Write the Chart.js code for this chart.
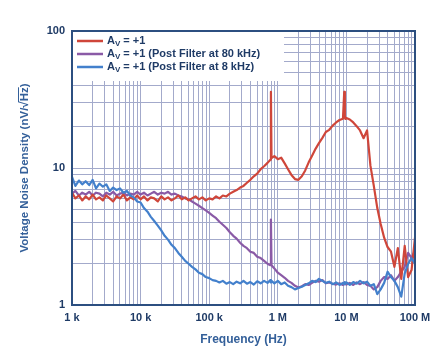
<!DOCTYPE html>
<html>
<head>
<meta charset="utf-8">
<script src="https://cdn.jsdelivr.net/npm/chart.js@4.4.1/dist/chart.umd.min.js"></script>
<style>
  html, body { margin: 0; padding: 0; background: #fff; }
  canvas { display: block; }
</style>
</head>
<body>
<canvas id="noiseChart" width="440" height="347"></canvas>
<script>
// Frequency points (Hz), log spaced, with a few extra points around the spurs
const freqHz = [
  1e3, 1.12e3, 1.26e3, 1.41e3, 1.58e3, 1.78e3, 2e3, 2.24e3, 2.51e3, 2.82e3, 3.16e3, 3.55e3, 3.98e3, 4.47e3, 5.01e3, 5.62e3, 6.31e3, 7.08e3, 7.94e3, 8.91e3,
  1e4, 1.12e4, 1.26e4, 1.41e4, 1.58e4, 1.78e4, 2e4, 2.24e4, 2.51e4, 2.82e4, 3.16e4, 3.55e4, 3.98e4, 4.47e4, 5.01e4, 5.62e4, 6.31e4, 7.08e4, 7.94e4, 8.91e4,
  1e5, 1.12e5, 1.26e5, 1.41e5, 1.58e5, 1.78e5, 2e5, 2.24e5, 2.51e5, 2.82e5, 3.16e5, 3.55e5, 3.98e5, 4.47e5, 5.01e5, 5.62e5, 6.31e5, 7.08e5, 7.8e5, 7.94e5, 8.1e5, 8.91e5,
  1e6, 1.12e6, 1.26e6, 1.41e6, 1.58e6, 1.78e6, 2e6, 2.24e6, 2.51e6, 2.82e6, 3.16e6, 3.55e6, 3.98e6, 4.47e6, 5.01e6, 5.62e6, 6.31e6, 7.08e6, 7.94e6, 8.91e6, 9.3e6, 9.5e6, 9.7e6,
  1e7, 1.12e7, 1.26e7, 1.41e7, 1.58e7, 1.78e7, 2e7, 2.24e7, 2.51e7, 2.82e7, 3.16e7, 3.55e7, 3.98e7, 4.47e7, 5.01e7, 5.62e7, 6.31e7, 7.08e7, 7.94e7, 8.91e7,
  1e8
];

// Noise density, nV/rtHz
const gainOne = [
  6.6, 6.0, 6.3, 5.8, 6.2, 5.9, 6.4, 5.9, 6.1, 5.8, 6.3, 6.0, 5.7, 6.2, 6.0, 6.4, 5.8, 6.1, 5.9, 6.3,
  5.9, 6.2, 5.8, 6.1, 6.0, 5.7, 6.2, 5.9, 6.1, 5.8, 6.0, 6.3, 5.9, 6.1, 5.8, 6.0, 6.2, 5.9, 6.1, 5.8,
  6.0, 5.9, 6.2, 6.0, 6.3, 6.2, 6.5, 6.7, 6.9, 7.2, 7.4, 7.8, 8.2, 8.7, 9.1, 9.8, 10.3, 10.9, 11.5, 36, 11.8, 12.2,
  11.6, 11.9, 10.8, 9.8, 8.9, 8.3, 8.2, 8.7, 9.6, 11.0, 12.3, 13.8, 15.2, 16.6, 18.3, 19.0, 20.4, 21.5, 22.4, 22.9, 36, 23.3, 22.8,
  23.2, 22.6, 21.5, 20.2, 18.8, 16.5, 18.8, 10.4, 7.4, 5.1, 3.9, 3.1, 2.65, 2.45, 1.9, 2.6, 1.55, 2.7, 1.6, 1.8,
  3.1
];

const postFilter80k = [
  6.5, 6.8, 6.3, 6.6, 6.4, 6.7, 6.3, 6.6, 6.5, 6.2, 6.6, 6.4, 6.7, 6.3, 6.5, 6.6, 6.3, 6.5, 6.4, 6.7,
  6.4, 6.6, 6.3, 6.5, 6.7, 6.4, 6.6, 6.5, 6.7, 6.4, 6.5, 6.3, 6.2, 6.0, 5.9, 5.7, 5.5, 5.3, 5.1, 4.9,
  4.7, 4.5, 4.3, 4.05, 3.85, 3.65, 3.4, 3.2, 3.05, 2.85, 2.7, 2.6, 2.45, 2.4, 2.25, 2.2, 2.1, 2.0, 1.95, 4.2, 1.95, 1.85,
  1.72, 1.65, 1.58, 1.5, 1.45, 1.38, 1.34, 1.37, 1.42, 1.4, 1.45, 1.5, 1.48, 1.52, 1.44, 1.46, 1.43, 1.41, 1.44, 1.4, 1.45, 1.42, 1.44,
  1.41, 1.45, 1.4, 1.46, 1.42, 1.47, 1.4, 1.38, 1.3, 1.35, 1.5, 1.6, 1.55, 1.65, 1.5, 1.6, 1.75, 1.9, 2.4, 2.2,
  2.5
];

const postFilter8k = [
  8.6, 7.4, 8.1, 7.6, 8.0, 7.5, 8.2, 7.1, 7.7, 7.3, 7.6, 6.8, 7.2, 6.9, 7.1, 6.6, 6.8, 6.3, 6.1, 5.7,
  5.6, 5.1, 4.8, 4.4, 4.1, 3.8, 3.5, 3.2, 3.0, 2.75, 2.6, 2.4, 2.25, 2.1, 2.0, 1.9, 1.82, 1.72, 1.68, 1.6,
  1.57, 1.52, 1.5, 1.46, 1.5, 1.43, 1.47, 1.42, 1.48, 1.44, 1.5, 1.43, 1.47, 1.41, 1.49, 1.44, 1.5, 1.45, 1.52, 1.46, 1.5, 1.44,
  1.5, 1.42, 1.46, 1.38, 1.35, 1.3, 1.33, 1.36, 1.4, 1.44, 1.5, 1.47, 1.55, 1.5, 1.45, 1.48, 1.42, 1.46, 1.4, 1.45, 1.42, 1.47, 1.43,
  1.46, 1.4, 1.47, 1.43, 1.5, 1.44, 1.48, 1.38, 1.42, 1.2, 1.3, 1.45, 1.75, 1.6, 1.5, 1.35, 1.15, 1.7, 2.0, 2.2,
  2.0
];

const seriesNames = ['= +1', '= +1 (Post Filter at 80 kHz)', '= +1 (Post Filter at 8 kHz)'];
const seriesColors = ['#cf463a', '#8a5aa6', '#4380cc'];

const xDecades = [1e3, 1e4, 1e5, 1e6, 1e7, 1e8];
const xTickLabels = ['1 k', '10 k', '100 k', '1 M', '10 M', '100 M'];
const yDecades = [1, 10, 100];
const yTickLabels = ['1', '10', '100'];

const tickColor = '#1f3b66';
const titleColor = '#34609a';
const gridColor = '#a3aacb';
const frameColor = '#2c4f80';

function logTicks(decades) {
  const out = [];
  decades.forEach((d, i) => {
    out.push({ value: d });
    if (i < decades.length - 1) {
      for (let m = 2; m <= 9; m++) out.push({ value: d * m });
    }
  });
  return out;
}

function toPoints(values) {
  return freqHz.map((f, i) => ({ x: f, y: values[i] }));
}

// white legend box with subscripted A_V labels, plus the frame around the plot
const legendAndFrame = {
  id: 'legendAndFrame',
  beforeDatasetsDraw(chart) {
    const ctx = chart.ctx;
    const a = chart.chartArea;
    ctx.save();
    ctx.fillStyle = '#fff';
    ctx.fillRect(a.left + 1, a.top + 1, 211, 49);
    ctx.restore();
  },
  afterDatasetsDraw(chart) {
    const ctx = chart.ctx;
    const a = chart.chartArea;
    ctx.save();
    ctx.strokeStyle = frameColor;
    ctx.lineWidth = 2;
    ctx.strokeRect(a.left, a.top, a.right - a.left, a.bottom - a.top);

    const rowY = [a.top + 10, a.top + 23, a.top + 36];
    seriesNames.forEach((name, i) => {
      const y = rowY[i];
      ctx.strokeStyle = seriesColors[i];
      ctx.lineWidth = 2.5;
      ctx.beginPath();
      ctx.moveTo(a.left + 5, y);
      ctx.lineTo(a.left + 31, y);
      ctx.stroke();

      ctx.fillStyle = tickColor;
      ctx.textBaseline = 'middle';
      ctx.textAlign = 'left';
      let x = a.left + 35;
      ctx.font = 'bold 11px "Liberation Sans", Arial, sans-serif';
      ctx.fillText('A', x, y);
      x += ctx.measureText('A').width;
      ctx.font = 'bold 8px "Liberation Sans", Arial, sans-serif';
      ctx.fillText('V', x, y + 3);
      x += ctx.measureText('V').width + 3;
      ctx.font = 'bold 11px "Liberation Sans", Arial, sans-serif';
      ctx.fillText(name, x, y);
    });
    ctx.restore();
  },
  afterDraw(chart) {
    // y title with an overline on the square root
    const ctx = chart.ctx;
    const a = chart.chartArea;
    const pre = 'Voltage Noise Density (nV/\u221A';
    const hz = 'Hz';
    const post = ')';
    ctx.save();
    ctx.font = 'bold 11.5px "Liberation Sans", Arial, sans-serif';
    ctx.fillStyle = titleColor;
    ctx.strokeStyle = titleColor;
    ctx.translate(25, (a.top + a.bottom) / 2);
    ctx.rotate(-Math.PI / 2);
    const w = ctx.measureText(pre + hz + post).width;
    const x0 = -w / 2;
    ctx.textBaseline = 'middle';
    ctx.textAlign = 'left';
    ctx.fillText(pre + hz + post, x0, 0);
    const xs = x0 + ctx.measureText(pre).width - 1;
    const xe = x0 + ctx.measureText(pre + hz).width;
    ctx.lineWidth = 1;
    ctx.beginPath();
    ctx.moveTo(xs, -6.5);
    ctx.lineTo(xe, -6.5);
    ctx.stroke();
    ctx.restore();
  }
};

const ctx = document.getElementById('noiseChart').getContext('2d');

const noiseChart = new Chart(ctx, {
  type: 'line',
  data: {
    datasets: [
      { label: 'AV ' + seriesNames[0], data: toPoints(gainOne), borderColor: seriesColors[0], order: 1 },
      { label: 'AV ' + seriesNames[1], data: toPoints(postFilter80k), borderColor: seriesColors[1], order: 2 },
      { label: 'AV ' + seriesNames[2], data: toPoints(postFilter8k), borderColor: seriesColors[2], order: 0 }
    ]
  },
  options: {
    responsive: false,
    animation: false,
    layout: { padding: { top: 31, right: 25, left: 0, bottom: 0 } },
    elements: {
      line: { borderWidth: 2.2, tension: 0, borderJoinStyle: 'round' },
      point: { radius: 0 }
    },
    plugins: {
      legend: { display: false },
      tooltip: { enabled: false }
    },
    scales: {
      x: {
        type: 'logarithmic',
        min: 1e3,
        max: 1e8,
        afterBuildTicks: s => { s.ticks = logTicks(xDecades); },
        afterFit: s => { s.height = 42; },
        ticks: {
          autoSkip: false,
          maxRotation: 0,
          padding: 6,
          color: tickColor,
          font: { family: '"Liberation Sans", Arial, sans-serif', size: 11, weight: 'bold' },
          callback: v => {
            const i = xDecades.indexOf(v);
            return i >= 0 ? xTickLabels[i] : '';
          }
        },
        grid: { color: gridColor, lineWidth: 1, drawTicks: false },
        border: { display: false },
        title: {
          display: true,
          text: 'Frequency (Hz)',
          color: titleColor,
          padding: { top: 0, bottom: 0 },
          font: { family: '"Liberation Sans", Arial, sans-serif', size: 12, weight: 'bold' }
        }
      },
      y: {
        type: 'logarithmic',
        min: 1,
        max: 100,
        afterBuildTicks: s => { s.ticks = logTicks(yDecades); },
        afterFit: s => { s.width = 72; },
        ticks: {
          autoSkip: false,
          padding: 7,
          color: tickColor,
          font: { family: '"Liberation Sans", Arial, sans-serif', size: 11, weight: 'bold' },
          callback: v => {
            const i = yDecades.indexOf(v);
            return i >= 0 ? yTickLabels[i] : '';
          }
        },
        grid: { color: gridColor, lineWidth: 1, drawTicks: false },
        border: { display: false }
      }
    }
  },
  plugins: [legendAndFrame]
});
</script>
</body>
</html>
